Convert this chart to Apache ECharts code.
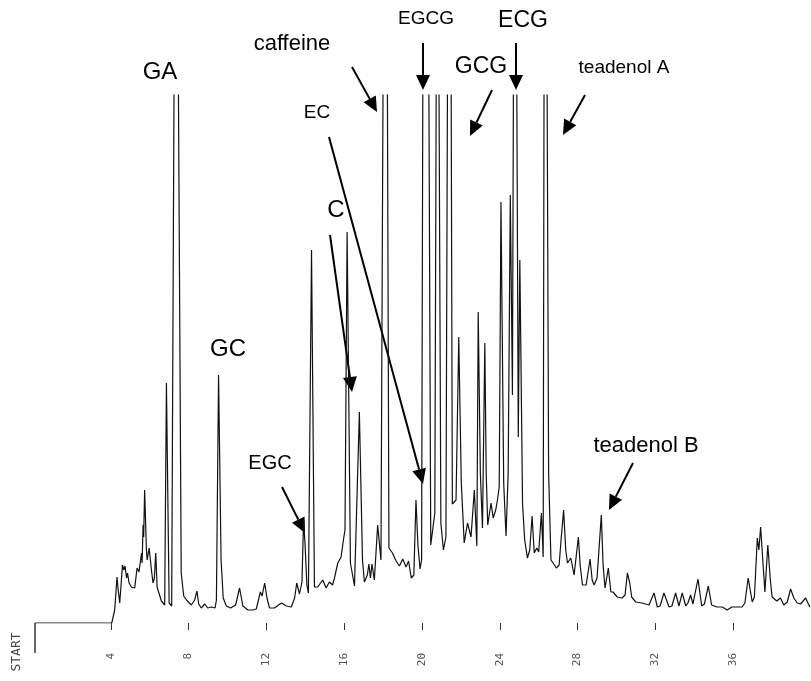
<!DOCTYPE html>
<html>
<head>
<meta charset="utf-8">
<script src="https://cdn.jsdelivr.net/npm/echarts@6/dist/echarts.min.js"></script>
<style>
  html, body { margin: 0; padding: 0; background: #fff; }
  #main { width: 811px; height: 681px; }
</style>
</head>
<body>
<div id="main"></div>
<script>
// retention time (min) and detector response (arbitrary units)
var times = [
  0.10, 4.05, 4.12, 4.20, 4.32, 4.38, 4.46, 4.60, 4.67, 4.73, 4.81, 4.86, 4.94, 5.06, 5.14, 5.23,
  5.35, 5.45, 5.58, 5.61, 5.66, 5.69, 5.74, 5.83, 5.87, 5.97, 6.09, 6.17, 6.24, 6.31, 6.38, 6.48,
  6.60, 6.77, 6.86, 7.00, 7.13, 7.35, 7.62, 7.75, 7.89, 8.14, 8.31, 8.43, 8.52, 8.65, 8.83, 8.98,
  9.18, 9.36, 9.43, 9.54, 9.67, 9.78, 9.94, 10.16, 10.42, 10.62, 10.79, 11.05, 11.29, 11.48, 11.69, 11.78,
  11.91, 12.03, 12.16, 12.42, 12.62, 12.78, 13.02, 13.28, 13.45, 13.56, 13.70, 13.83, 13.91, 13.99, 14.08, 14.16,
  14.32, 14.47, 14.64, 14.78, 14.90, 15.07, 15.24, 15.40, 15.50, 15.67, 15.84, 15.96, 16.04, 16.15, 16.32, 16.53,
  16.78, 16.94, 17.04, 17.19, 17.27, 17.35, 17.43, 17.55, 17.72, 17.89, 17.95, 18.01, 18.09, 18.21, 18.30, 18.48,
  18.67, 18.84, 19.01, 19.18, 19.31, 19.45, 19.58, 19.69, 19.79, 19.90, 19.98, 20.05, 20.19, 20.34, 20.45, 20.66,
  20.74, 20.80, 20.86, 20.97, 21.10, 21.23, 21.32, 21.40, 21.49, 21.56, 21.75, 21.89, 22.02, 22.17, 22.34, 22.52,
  22.69, 22.82, 22.89, 23.00, 23.11, 23.23, 23.30, 23.38, 23.55, 23.66, 23.79, 23.88, 23.97, 24.06, 24.20, 24.32,
  24.43, 24.54, 24.65, 24.71, 24.78, 24.86, 24.95, 25.03, 25.17, 25.28, 25.42, 25.54, 25.66, 25.77, 25.90, 26.00,
  26.14, 26.23, 26.28, 26.35, 26.42, 26.51, 26.63, 26.74, 26.91, 27.05, 27.15, 27.28, 27.39, 27.48, 27.65, 27.82,
  28.04, 28.13, 28.25, 28.44, 28.64, 28.75, 28.85, 29.00, 29.10, 29.22, 29.31, 29.41, 29.58, 29.71, 29.82, 30.04,
  30.29, 30.44, 30.56, 30.68, 30.78, 30.99, 31.31, 31.67, 31.93, 32.10, 32.24, 32.44, 32.70, 32.85, 33.04, 33.21,
  33.38, 33.56, 33.67, 33.81, 33.93, 34.03, 34.19, 34.38, 34.52, 34.72, 34.89, 35.16, 35.44, 35.69, 35.93, 36.19,
  36.46, 36.60, 36.77, 36.98, 37.09, 37.24, 37.32, 37.41, 37.63, 37.78, 37.91, 38.00, 38.24, 38.43, 38.60, 38.78,
  38.95, 39.12, 39.29, 39.47, 39.72, 39.94
];
var signal = [
  0, 0, 2, 13, 46, 33, 20, 58, 53, 57, 45, 50, 40, 36, 38, 35,
  55, 51, 70, 60, 98, 86, 133, 73, 63, 75, 53, 40, 45, 70, 36, 36,
  22, 18, 240, 20, 17, 960, 50, 27, 23, 18, 23, 32, 19, 15, 19, 15,
  16, 15, 23, 248, 63, 25, 17, 15, 18, 35, 17, 13, 13, 14, 31, 27,
  40, 25, 15, 15, 18, 20, 17, 16, 25, 40, 29, 41, 103, 78, 38, 30,
  373, 36, 36, 40, 43, 35, 41, 38, 45, 60, 66, 83, 93, 391, 60, 37,
  211, 63, 41, 48, 59, 45, 59, 43, 98, 63, 65, 600, 1100, 600, 75, 70,
  62, 57, 64, 56, 62, 45, 48, 123, 78, 54, 63, 600, 1100, 600, 78, 110,
  600, 950, 600, 100, 73, 86, 600, 1000, 600, 119, 123, 286, 140, 80, 100, 86,
  133, 77, 311, 150, 95, 280, 150, 98, 120, 105, 113, 123, 136, 421, 140, 87,
  150, 428, 228, 600, 1000, 600, 186, 363, 119, 83, 65, 73, 107, 70, 75, 71,
  110, 66, 600, 1000, 600, 150, 63, 60, 55, 58, 83, 113, 73, 60, 65, 48,
  86, 58, 38, 38, 64, 43, 38, 45, 47, 108, 58, 35, 55, 31, 31, 26,
  25, 28, 50, 40, 26, 21, 20, 18, 30, 16, 17, 30, 16, 17, 30, 17,
  30, 17, 20, 28, 19, 21, 44, 17, 19, 37, 18, 16, 16, 13, 16, 16,
  16, 20, 45, 21, 26, 85, 73, 96, 31, 78, 43, 26, 22, 25, 18, 21,
  34, 25, 20, 19, 25, 16
];
var tickMinutes = [4, 8, 12, 16, 20, 24, 28, 32, 36];

// peak annotations: label, text centre, font size, arrow from -> to (pixels)
var labels = ['GA', 'caffeine', 'EC', 'EGCG', 'ECG', 'GCG', 'teadenol A', 'C', 'GC', 'EGC', 'teadenol B'];
var labelPos = [[160, 72], [292, 44], [317, 113], [426, 19], [523, 21], [481, 67], [624, 68], [336, 210], [228, 349], [270, 463], [646, 446]];
var labelSize = [24, 22, 19, 19, 23, 23, 19, 24, 24, 20, 22];
var arrows = [
  [352, 67, 377, 112], [329, 137, 423, 484], [423, 43, 423, 90], [516, 43, 516, 90],
  [492, 90, 470, 136], [585, 95, 563, 135], [330, 235, 352, 392], [282, 487, 305, 533], [633, 463, 609, 510]
];

var data = times.map(function (t, i) { return [t, signal[i]]; });

function arrowGraphic(a) {
  var x1 = a[0], y1 = a[1], x2 = a[2], y2 = a[3];
  var dx = x2 - x1, dy = y2 - y1;
  var len = Math.sqrt(dx * dx + dy * dy);
  var ux = dx / len, uy = dy / len;
  var hl = 15, hw = 7;
  var bx = x2 - ux * hl, by = y2 - uy * hl;
  return [
    { type: 'line', shape: { x1: x1, y1: y1, x2: bx, y2: by }, style: { stroke: '#000', lineWidth: 2 }, silent: true },
    { type: 'polygon', shape: { points: [[x2, y2], [bx - uy * hw, by + ux * hw], [bx + uy * hw, by - ux * hw]] }, style: { fill: '#000' }, silent: true }
  ];
}

var graphics = [];
labels.forEach(function (name, i) {
  graphics.push({
    type: 'text', x: labelPos[i][0], y: labelPos[i][1], silent: true,
    style: { text: name, fontSize: labelSize[i], fontFamily: 'Liberation Sans, Arial, sans-serif', fill: '#000', align: 'center', verticalAlign: 'middle' }
  });
});
arrows.forEach(function (a) { graphics = graphics.concat(arrowGraphic(a)); });
// start marker of the recorder
graphics.push({ type: 'line', shape: { x1: 35, y1: 623, x2: 35, y2: 653 }, style: { stroke: '#000', lineWidth: 1.2 }, silent: true });
graphics.push({
  type: 'text', x: 17, y: 652, rotation: Math.PI / 2, silent: true,
  style: { text: 'START', fontSize: 13, fontFamily: 'DejaVu Sans Mono, monospace', fill: '#444', align: 'center', verticalAlign: 'middle' }
});

var chart = echarts.init(document.getElementById('main'), null, { renderer: 'canvas' });
var option = {
  animation: false,
  backgroundColor: '#fff',
  grid: { left: 33, top: 95, width: 779, height: 528 },
  xAxis: {
    type: 'value', min: 0, max: 40,
    axisLine: { show: false },
    splitLine: { show: false },
    axisTick: { show: true, customValues: tickMinutes, length: 7, lineStyle: { color: '#333', width: 1 } },
    axisLabel: {
      show: true, customValues: tickMinutes, rotate: 90, margin: 30,
      fontSize: 11, color: '#555', fontFamily: 'DejaVu Sans Mono, monospace'
    }
  },
  yAxis: { type: 'value', min: 0, max: 528, show: false },
  series: [{
    type: 'line', data: data, symbol: 'none', clip: true,
    lineStyle: { color: '#111', width: 1.2 }
  }],
  graphic: graphics
};
chart.setOption(option);
</script>
</body>
</html>
